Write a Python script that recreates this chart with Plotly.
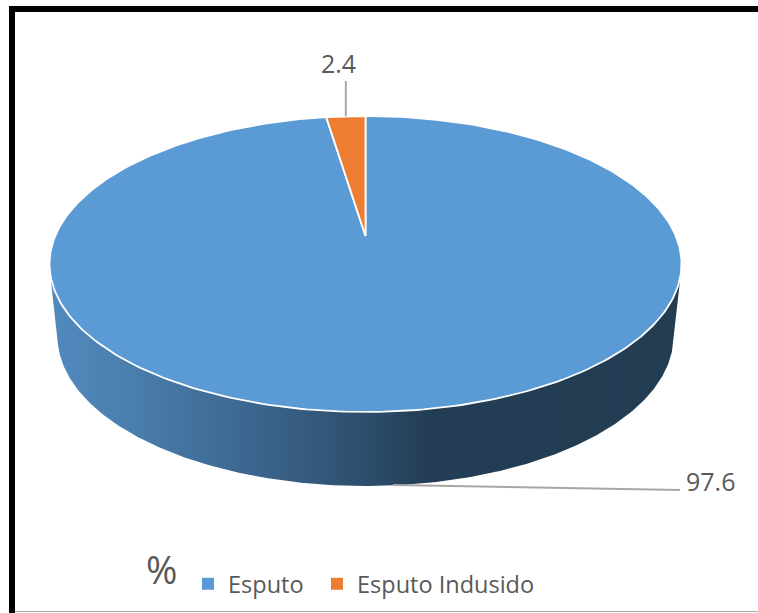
import numpy as np
import plotly.graph_objects as go

# Chart data
categories = ["Esputo", "Esputo Indusido"]
values = [97.6, 2.4]
colors = ["#5B9BD5", "#ED7D31"]
value_labels = ["97.6", "2.4"]
title_text = "%"

WIDTH, HEIGHT = 758, 613
FONT = "Open Sans, sans-serif"
TEXT = "#595959"
LEADER = "#A6A6A6"
CENTER_X = 365.5
APEX_Y = 236


def project(theta, cy, half_width, half_depth, tilt):
    """Perspective projection of a disc; theta is clockwise from twelve o'clock."""
    u, v = np.sin(theta), -np.cos(theta)
    w = 1 - tilt * v
    return CENTER_X + half_width * u / w, cy + half_depth * v / w


def top_disc(theta):
    return project(theta, APEX_Y, 310.3, 142.7, 0.189)


def bottom_disc(theta):
    return project(theta, 307.7, 302.5, 144.6, 0.189)


def convex_hull(points):
    """Monotone chain hull of (x, y) tuples, returned as a closed outline."""
    points = sorted(set(points))

    def half(seq):
        chain = []
        for p in seq:
            while len(chain) >= 2:
                (ax, ay), (bx, by) = chain[-2], chain[-1]
                if (bx - ax) * (p[1] - ay) - (by - ay) * (p[0] - ax) > 0:
                    break
                chain.pop()
            chain.append(p)
        return chain[:-1]

    outline = half(points) + half(points[::-1])
    return outline + outline[:1]


fractions = np.array(values) / sum(values)
# Slices run clockwise and the last one ends at twelve o'clock
stops = 2 * np.pi * np.concatenate([[0], np.cumsum(fractions)])

fig = go.Figure()

# Body of the pie: the hull of both discs, with the top face painted over it
ring = np.linspace(0, 2 * np.pi, 720, endpoint=False)
body = convex_hull(list(zip(*top_disc(ring))) + list(zip(*bottom_disc(ring))))
fig.add_trace(go.Scatter(
    x=[p[0] for p in body],
    y=[p[1] for p in body],
    mode="lines",
    line=dict(width=0),
    fill="toself",
    fillgradient=dict(
        type="horizontal",
        colorscale=[
            [0.0, "#5289BD"],
            [0.123, "#4A7FAF"],
            [0.334, "#3B648C"],
            [0.5, "#2D4E6C"],
            [0.6, "#233D54"],
            [1.0, "#223C52"],
        ],
    ),
    hoverinfo="skip",
    showlegend=False,
))

# Top face slices
for name, color, start, end in zip(categories, colors, stops[:-1], stops[1:]):
    theta = np.linspace(start, end, 360)
    ex, ey = top_disc(theta)
    fig.add_trace(go.Scatter(
        x=np.concatenate([[CENTER_X], ex, [CENTER_X]]),
        y=np.concatenate([[APEX_Y], ey, [APEX_Y]]),
        mode="lines",
        line=dict(color="white", width=1.8),
        fill="toself",
        fillcolor=color,
        name=name,
        hoverinfo="name",
        showlegend=False,
    ))

# Leader lines: the small slice's runs up from its rim midpoint
mid_small = 0.5 * (stops[1] + stops[2])
small_x, small_y = top_disc(np.array([mid_small]))
fig.add_trace(go.Scatter(
    x=[small_x[0], small_x[0]], y=[small_y[0], 81],
    mode="lines", line=dict(color=LEADER, width=2),
    hoverinfo="skip", showlegend=False,
))
fig.add_trace(go.Scatter(
    x=[393, 680], y=[485, 490],
    mode="lines", line=dict(color=LEADER, width=2),
    hoverinfo="skip", showlegend=False,
))

# Legend entries
legend_widths = [84, 190]
for name, color, entry_width in zip(categories, colors, legend_widths):
    fig.add_trace(go.Scatter(
        x=[None], y=[None], mode="markers", name=name,
        marker=dict(symbol="square", size=9, color=color),
        legendwidth=entry_width,
    ))

# Frame around the chart
frame = [
    (9, 6, WIDTH, 12, "black"),
    (9, 6, 15, HEIGHT, "black"),
    (15, 611, WIDTH, 612, "#A6A6A6"),
]
shapes = [
    dict(type="rect", xref="x", yref="y", x0=x0, y0=y0, x1=x1, y1=y1,
         fillcolor=c, line_width=0, layer="above")
    for x0, y0, x1, y1, c in frame
]

fig.update_layout(
    width=WIDTH, height=HEIGHT,
    margin=dict(l=0, r=0, t=0, b=0),
    paper_bgcolor="white", plot_bgcolor="white",
    xaxis=dict(range=[0, WIDTH], visible=False, fixedrange=True),
    yaxis=dict(range=[HEIGHT, 0], visible=False, fixedrange=True),
    shapes=shapes,
    title=dict(
        text=title_text, font=dict(family=FONT, size=38, color=TEXT),
        x=146 / WIDTH, xanchor="left", xref="paper",
        y=1 - 571 / HEIGHT, yanchor="middle", yref="paper",
    ),
    legend=dict(
        orientation="h", x=188 / WIDTH, xanchor="left",
        y=1 - 584 / HEIGHT, yanchor="middle",
        font=dict(family=FONT, size=23.5, color=TEXT),
        itemsizing="constant", bgcolor="rgba(0,0,0,0)",
    ),
    annotations=[
        dict(x=710, y=481, xref="x", yref="y", text=value_labels[0], showarrow=False,
             font=dict(family=FONT, size=25, color=TEXT)),
        dict(x=338, y=63, xref="x", yref="y", text=value_labels[1], showarrow=False,
             font=dict(family=FONT, size=25, color=TEXT)),
    ],
)

fig.write_html("out.html")
